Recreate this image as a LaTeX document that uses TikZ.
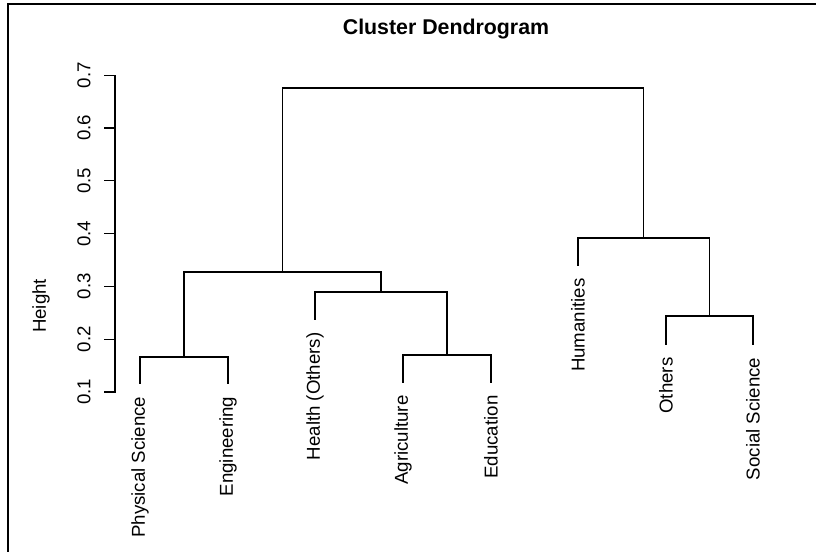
\documentclass[tikz,border=0pt]{standalone}
\usepackage{fontspec}
\setmainfont{Liberation Sans}
\usepackage{tikz}
\tikzstyle{link} = [line width=0.9pt, line cap=rect]
\tikzstyle{leaf} = [rotate=90, anchor=east, inner sep=0pt, font=\fontsize{14}{16}\selectfont]
\tikzstyle{ticklab} = [rotate=90, inner sep=0pt, font=\fontsize{14}{16}\selectfont]

\begin{document}
\begin{tikzpicture}[x=0.75pt, y=-0.75pt]
		\useasboundingbox (0,0) rectangle (816,552);
		% frame
		\draw [line width=1.5pt] (7.7,552) -- (7.7,3.7) -- (816,3.7);
		
		\node (title) at (446,29.5) [font=\fontsize{16}{19}\selectfont\bfseries] {Cluster Dendrogram};
		
		% axis
		\coordinate (axbot) at (115,392);
		\coordinate (axtop) at (115,75.2);
		\draw [link] (axbot) -- (axtop);
		\foreach \v/\y in {0.1/392, 0.2/339.2, 0.3/286.4, 0.4/233.6, 0.5/180.8, 0.6/128, 0.7/75.2} {
			\draw [link] (115,\y) -- (105,\y);
			\node (tick\v) [ticklab] at (84,\y) {\v};
		}
		\node (ylab) [ticklab] at (41,306) {Height};
		
		% leaves
		\coordinate (ps) at (140,383);
		\coordinate (eng) at (228,383);
		\coordinate (hlth) at (315,319);
		\coordinate (agri) at (403,382);
		\coordinate (edu) at (491,382);
		\coordinate (hum) at (578,265);
		\coordinate (oth) at (666,344);
		\coordinate (soc) at (753,344);
		
		\node (psl) [leaf] at ([yshift=-10pt]ps) {Physical Science};
		\node (engl) [leaf] at ([yshift=-10pt]eng) {Engineering};
		\node (hlthl) [leaf] at ([yshift=-10pt]hlth) {Health (Others)};
		\node (agril) [leaf] at ([yshift=-10pt]agri) {Agriculture};
		\node (edul) [leaf] at ([yshift=-10pt]edu) {Education};
		\node (huml) [leaf] at ([yshift=-10pt]hum) {Humanities};
		\node (othl) [leaf] at ([yshift=-10pt]oth) {Others};
		\node (socl) [leaf] at ([yshift=-10pt]soc) {Social Science};
		
		% merges
		\coordinate (m1) at (184,357);
		\coordinate (m2) at (447,355);
		\coordinate (m3) at (381,292);
		\coordinate (m4) at (282.5,272);
		\coordinate (m5) at (709.5,316);
		\coordinate (m6) at (643.75,238);
		\coordinate (m7) at (463,88);
		
		\draw [link] (ps) |- (m1) -| (eng);
		\draw [link] (agri) |- (m2) -| (edu);
		\draw [link] (hlth) |- (m3) -| (m2);
		\draw [link] (m1) |- (m4) -| (m3);
		\draw [link] (oth) |- (m5) -| (soc);
		\draw [link] (hum) |- (m6) -| (m5);
		\draw [link] (m4) |- (m7) -| (m6);
	\end{tikzpicture}
\end{document}
